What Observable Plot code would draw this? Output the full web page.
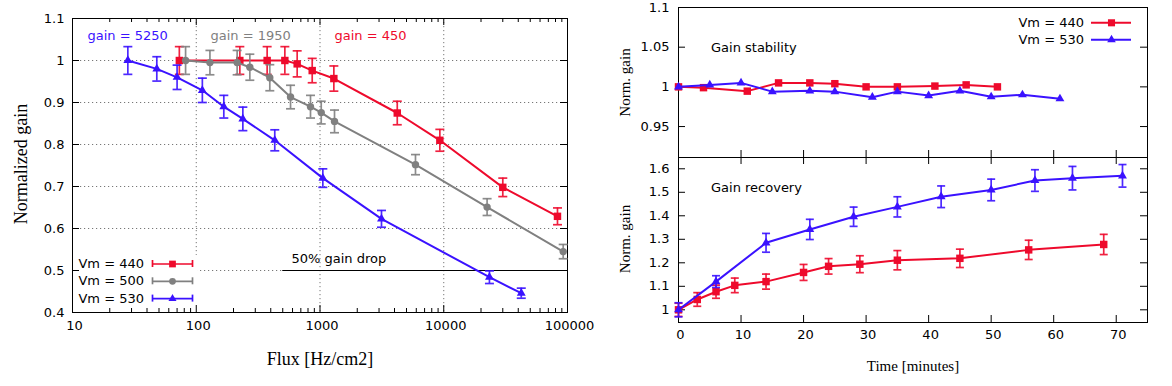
<!DOCTYPE html>
<html><head><meta charset="utf-8">
<script src="https://cdn.jsdelivr.net/npm/d3@7"></script>
<script src="https://cdn.jsdelivr.net/npm/@observablehq/plot@0.6"></script>
<style>
body{margin:0;background:#fff;}
#wrap{position:relative;width:1172px;height:386px;overflow:hidden;}
#wrap svg{position:absolute;left:0;top:0;}
</style></head><body><div id="wrap"></div>
<script>
// ---------- data: left panel (gain vs flux) ----------
const flux440 = [73, 225, 374, 520, 654, 865, 1294, 4210, 9300, 30000, 83000];
const gain440 = [1.0, 1.0, 1.0, 1.0, 0.992, 0.976, 0.957, 0.875, 0.81, 0.698, 0.629];
const err440  = [0.033, 0.033, 0.033, 0.033, 0.031, 0.029, 0.03, 0.028, 0.026, 0.022, 0.02];

const flux500 = [82, 129, 214, 271, 393, 578, 838, 1023, 1310, 5910, 22400, 92300];
const gain500 = [1.0, 0.995, 0.995, 0.984, 0.959, 0.913, 0.89, 0.876, 0.855, 0.752, 0.651, 0.545];
const err500  = [0.033, 0.029, 0.029, 0.031, 0.031, 0.028, 0.027, 0.027, 0.027, 0.024, 0.02, 0.017];

const flux530 = [28, 48, 70, 112, 167, 238, 431, 1054, 3140, 23400, 42300];
const gain530 = [1.0, 0.98, 0.96, 0.929, 0.89, 0.861, 0.81, 0.72, 0.623, 0.484, 0.446];
const err530  = [0.033, 0.029, 0.029, 0.029, 0.027, 0.028, 0.025, 0.022, 0.02, 0.015, 0.012];

const fluxTicks = [10, 100, 1000, 10000, 100000];
const gainTicks = [0.4, 0.5, 0.6, 0.7, 0.8, 0.9, 1.0, 1.1];
const gridFlux = [100, 1000, 10000];
const gridGain = [0.5, 0.6, 0.7, 0.8, 0.9, 1.0];
const dropLevel = 0.5;
const dropFrom = 500;

// ---------- data: top-right (gain stability) ----------
const stabT440 = [0, 4, 11, 16, 21, 25, 30, 35, 41, 46, 51];
const stabG440 = [1.0, 0.999, 0.9946, 1.005, 1.005, 1.004, 1.0, 1.0, 1.001, 1.0025, 1.0];
const stabT530 = [0, 5, 10, 15, 21, 25, 31, 35, 40, 45, 50, 55, 61];
const stabG530 = [1.0, 1.0025, 1.005, 0.994, 0.995, 0.994, 0.987, 0.994, 0.989, 0.995, 0.9875, 0.99, 0.985];
const stabTicks = [0.95, 1.0, 1.05, 1.1];

// ---------- data: bottom-right (gain recovery) ----------
const recT440 = [0, 3, 6, 9, 14, 20, 24, 29, 35, 45, 56, 68];
const recG440 = [1.0, 1.044, 1.077, 1.104, 1.12, 1.159, 1.185, 1.194, 1.211, 1.219, 1.255, 1.278];
const recE440 = [0.028, 0.029, 0.028, 0.031, 0.032, 0.034, 0.033, 0.036, 0.041, 0.039, 0.041, 0.043];
const recT530 = [0, 6, 14, 21, 28, 35, 42, 50, 57, 63, 71];
const recG530 = [1.0, 1.12, 1.285, 1.342, 1.396, 1.438, 1.481, 1.51, 1.55, 1.56, 1.57];
const recE530 = [0.03, 0.025, 0.04, 0.043, 0.041, 0.043, 0.046, 0.046, 0.046, 0.05, 0.048];
const recTicks = [1.0, 1.1, 1.2, 1.3, 1.4, 1.5, 1.6];
const timeTicks = [0, 10, 20, 30, 40, 50, 60, 70];

// ---------- styling ----------
const RED = "#ee0a2c", GRAY = "#808080", BLUE = "#3a12ff";
const SANS = "'DejaVu Sans', sans-serif";
const SERIF = "'Liberation Serif', 'Times New Roman', serif";
const W = 1172, H = 386;
const cap = {draw(ctx, size) { const w = Math.sqrt(size / Math.PI); ctx.moveTo(-w, 0); ctx.lineTo(w, 0); }};
const fmt = d => String(+d.toFixed(2));

const rows = (xs, ys, es) => xs.map((x, i) => ({x, y: ys[i], e: es ? es[i] : 0}));
const S440 = rows(flux440, gain440, err440), S500 = rows(flux500, gain500, err500), S530 = rows(flux530, gain530, err530);

function errorMarks(data, color, capR) {
  const o = {stroke: color, strokeWidth: 1.7, strokeOpacity: 0.9};
  return [
    Plot.ruleX(data, {x: "x", y1: d => d.y - d.e, y2: d => d.y + d.e, ...o}),
    Plot.dot(data, {x: "x", y: d => d.y - d.e, symbol: cap, r: capR, fill: "none", ...o}),
    Plot.dot(data, {x: "x", y: d => d.y + d.e, symbol: cap, r: capR, fill: "none", ...o})
  ];
}
function seriesMarks(data, color, symbol, r, withErr, capR) {
  return [
    ...(withErr ? errorMarks(data, color, capR) : []),
    Plot.line(data, {x: "x", y: "y", stroke: color, strokeWidth: 2}),
    Plot.dot(data, {x: "x", y: "y", symbol, r, fill: color, stroke: "none"})
  ];
}
function tickMarks(xs, ys, fw, fh, len, sides) {
  const k = {stroke: "black", strokeWidth: 1};
  const m = [];
  if (sides.bottom) m.push(Plot.ruleX(xs, {x: d => d, insetTop: fh - len, ...k}));
  if (sides.top) m.push(Plot.ruleX(xs, {x: d => d, insetBottom: fh - len, ...k}));
  if (sides.left) m.push(Plot.ruleY(ys, {y: d => d, insetRight: fw - len, ...k}));
  if (sides.right) m.push(Plot.ruleY(ys, {y: d => d, insetLeft: fw - len, ...k}));
  return m;
}

const wrap = document.getElementById("wrap");
const baseStyle = {fontFamily: SANS, fontSize: "13px", background: "transparent", overflow: "visible", color: "black"};

// ---------- left panel ----------
{
  const mL = 72, mR = 605, mT = 18, mB = 74;
  const fw = W - mL - mR, fh = H - mT - mB;
  const minor = [];
  for (const dec of [10, 100, 1000, 10000]) for (let k = 2; k <= 9; k++) minor.push(dec * k);
  const grid = {stroke: "#777", strokeWidth: 1, strokeDasharray: "1.2,2.8"};
  const p = Plot.plot({
    width: W, height: H, marginLeft: mL, marginRight: mR, marginTop: mT, marginBottom: mB,
    x: {type: "log", domain: [10, 100000], axis: null},
    y: {domain: [0.4, 1.1], axis: null},
    style: baseStyle,
    marks: [
      Plot.ruleX(gridFlux, {x: d => d, ...grid}),
      Plot.ruleY(gridGain, {y: d => d, ...grid}),
      Plot.rect([0], {x1: 10, x2: 104, y1: 0.4, y2: 0.536, fill: "white"}),
      Plot.ruleY([dropLevel], {x1: dropFrom, x2: 100000, stroke: "black", strokeWidth: 1.2}),
      ...tickMarks(fluxTicks, gainTicks, fw, fh, 7, {bottom: 1, top: 1, left: 1, right: 1}),
      ...tickMarks(minor, [], fw, fh, 4, {bottom: 1, top: 1}),
      Plot.frame({stroke: "black", strokeWidth: 1}),
      ...seriesMarks(S440, RED, "square", 4.2, true, 4.5),
      ...seriesMarks(S500, GRAY, "circle", 3.7, true, 4.5),
      ...seriesMarks(S530, BLUE, "triangle", 3.3, true, 4.5),
      Plot.text(gainTicks, {y: d => d, frameAnchor: "left", dx: -8, textAnchor: "end", text: fmt, fontSize: 13}),
      Plot.text(fluxTicks, {x: d => d, frameAnchor: "bottom", dy: 17, dx: 2, text: d => String(d), fontSize: 13})
    ]
  });
  wrap.appendChild(p);
}

// ---------- right panels ----------
const rL = 678, rR = 25;
{
  const mT = 7, mB = 229;
  const fw = W - rL - rR, fh = H - mT - mB;
  const A = rows(stabT440, stabG440), B = rows(stabT530, stabG530);
  const p = Plot.plot({
    width: W, height: H, marginLeft: rL, marginRight: rR, marginTop: mT, marginBottom: mB,
    x: {domain: [0, 75], axis: null},
    y: {domain: [0.911, 1.1], axis: null},
    style: baseStyle,
    marks: [
      ...tickMarks(timeTicks, stabTicks, fw, fh, 7, {bottom: 1, left: 1, right: 1}),
      Plot.frame({stroke: "black", strokeWidth: 1}),
      ...seriesMarks(A, RED, "square", 4.2, false),
      ...seriesMarks(B, BLUE, "triangle", 3.3, false),
      Plot.text(stabTicks, {y: d => d, frameAnchor: "left", dx: -9, textAnchor: "end", text: fmt, fontSize: 13})
    ]
  });
  wrap.appendChild(p);
}
{
  const mT = 157, mB = 64;
  const fw = W - rL - rR, fh = H - mT - mB;
  const A = rows(recT440, recG440, recE440), B = rows(recT530, recG530, recE530);
  const p = Plot.plot({
    width: W, height: H, marginLeft: rL, marginRight: rR, marginTop: mT, marginBottom: mB,
    x: {domain: [0, 75], axis: null},
    y: {domain: [0.946, 1.648], axis: null},
    style: baseStyle,
    marks: [
      ...tickMarks(timeTicks, recTicks, fw, fh, 7, {bottom: 1, top: 1, left: 1, right: 1}),
      Plot.frame({stroke: "black", strokeWidth: 1}),
      ...seriesMarks(A, RED, "square", 4.2, true, 4),
      ...seriesMarks(B, BLUE, "triangle", 3.3, true, 4),
      Plot.text(recTicks, {y: d => d, frameAnchor: "left", dx: -9, textAnchor: "end", text: fmt, fontSize: 13}),
      Plot.text(timeTicks, {x: d => d, frameAnchor: "bottom", dy: 16, dx: 2, text: d => String(d), fontSize: 13})
    ]
  });
  wrap.appendChild(p);
}

// ---------- overlay: titles, annotations, legends ----------
{
  const legendLeft = [
    {label: "Vm = 440", color: RED, symbol: "square", r: 3.8},
    {label: "Vm = 500", color: GRAY, symbol: "circle", r: 3.4},
    {label: "Vm = 530", color: BLUE, symbol: "triangle", r: 3.0}
  ].map((d, i) => ({...d, y: 263.5 + i * 17.3}));
  const legendRight = [
    {label: "Vm = 440", color: RED, symbol: "square", r: 4.0},
    {label: "Vm = 530", color: BLUE, symbol: "triangle", r: 3.2}
  ].map((d, i) => ({...d, y: 22.3 + i * 17}));
  const notes = [
    {text: "gain = 5250", x: 87, y: 35.5, color: BLUE},
    {text: "gain = 1950", x: 210, y: 35.5, color: GRAY},
    {text: "gain = 450", x: 334, y: 35.5, color: RED},
    {text: "50% gain drop", x: 291, y: 258.5, color: "black"},
    {text: "Gain stability", x: 710.5, y: 47, color: "black"},
    {text: "Gain recovery", x: 710.5, y: 187.5, color: "black"}
  ];
  const titles = [
    {text: "Flux [Hz/cm2]", x: 319.5, y: 358.5, size: 18, rotate: 0},
    {text: "Time [minutes]", x: 912.5, y: 365.5, size: 15, rotate: 0},
    {text: "Normalized gain", x: 20.5, y: 163.5, size: 18, rotate: -90},
    {text: "Norm. gain", x: 624.5, y: 82, size: 15, rotate: -90},
    {text: "Norm. gain", x: 624.5, y: 238.5, size: 15, rotate: -90}
  ];
  const lx1 = 152, lx2 = 192, lm = 172;
  const rx1 = 1091, rx2 = 1131, rm = 1111;
  const p = Plot.plot({
    width: W, height: H, margin: 0,
    x: {type: "identity", axis: null},
    y: {type: "identity", axis: null},
    style: baseStyle,
    marks: [
      Plot.text(notes, {x: "x", y: "y", text: "text", fill: "color", textAnchor: "start", fontSize: 13}),
      Plot.text(titles, {x: "x", y: "y", text: "text", fontSize: "size", rotate: "rotate", fontFamily: SERIF, textAnchor: "middle", fill: "black"}),
      // left legend
      Plot.text(legendLeft, {x: 143.5, y: "y", text: "label", textAnchor: "end", fontSize: 13, fill: "black"}),
      Plot.ruleY(legendLeft, {y: "y", x1: lx1, x2: lx2, stroke: "color", strokeWidth: 1.7}),
      Plot.ruleX(legendLeft, {x: lx1, y1: d => d.y - 3.5, y2: d => d.y + 3.5, stroke: "color", strokeWidth: 1.7}),
      Plot.ruleX(legendLeft, {x: lx2, y1: d => d.y - 3.5, y2: d => d.y + 3.5, stroke: "color", strokeWidth: 1.7}),
      ...legendLeft.map(d => Plot.dot([d], {x: lm, y: "y", symbol: d.symbol, r: d.r, fill: d.color, stroke: "none"})),
      // right legend
      Plot.text(legendRight, {x: 1083.5, y: "y", text: "label", textAnchor: "end", fontSize: 13, fill: "black"}),
      Plot.ruleY(legendRight, {y: "y", x1: rx1, x2: rx2, stroke: "color", strokeWidth: 2}),
      ...legendRight.map(d => Plot.dot([d], {x: rm, y: "y", symbol: d.symbol, r: d.r, fill: d.color, stroke: "none"}))
    ]
  });
  wrap.appendChild(p);
}
</script>
</body></html>
